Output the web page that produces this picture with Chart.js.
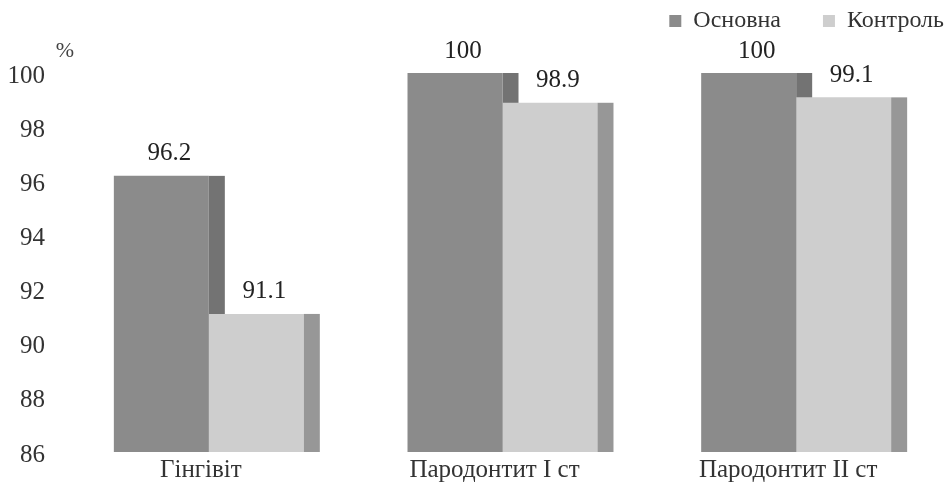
<!DOCTYPE html>
<html>
<head>
<meta charset="utf-8">
<script src="https://cdn.jsdelivr.net/npm/chart.js@4.4.1/dist/chart.umd.min.js"></script>
<style>
  html, body { margin: 0; padding: 0; background: #fff; }
</style>
</head>
<body>
<canvas id="chart" width="946" height="486"></canvas>
<script>
const categories = ["Гінгівіт", "Пародонтит І ст", "Пародонтит ІІ ст"];
const seriesNames = ["Основна", "Контроль"];
const mainValues = [96.2, 100, 100];
const controlValues = [91.1, 98.9, 99.1];
const yMin = 86;
const yMax = 100;
const yStep = 2;

const frontColors = ["#8b8b8b", "#cecece"];
const sideColors = ["#737373", "#979797"];
const sideWidth = 16;
const fontFamily = "'Liberation Serif', 'DejaVu Serif', serif";
const legendGap = 42;

function drawSides(chart, index) {
  const ctx = chart.ctx;
  const bottom = chart.chartArea.bottom;
  ctx.save();
  ctx.fillStyle = sideColors[index];
  chart.getDatasetMeta(index).data.forEach(bar => {
    const p = bar.getProps(["x", "y", "width"], true);
    ctx.fillRect(p.x + p.width / 2, p.y, sideWidth, bottom - p.y);
  });
  ctx.restore();
}

// 3D right faces: the first series' face sits behind the second series' bars
const barSides = {
  id: "barSides",
  beforeDatasetsDraw(chart) {
    drawSides(chart, 0);
  },
  afterDatasetsDraw(chart) {
    drawSides(chart, 1);
    const ctx = chart.ctx;
    ctx.save();
    ctx.fillStyle = "#222";
    ctx.font = "25px " + fontFamily;
    ctx.textAlign = "center";
    ctx.textBaseline = "middle";
    chart.data.datasets.forEach((ds, i) => {
      chart.getDatasetMeta(i).data.forEach((bar, j) => {
        ctx.fillText(String(ds.data[j]), bar.x + sideWidth / 2, bar.y - 22);
      });
    });
    ctx.font = "22px " + fontFamily;
    ctx.fillStyle = "#444";
    ctx.fillText("%", chart.chartArea.left + 3, chart.chartArea.top - 22);
    ctx.restore();
  }
};

// legend: fixed height, wide gap between items, pushed to the top right corner
const legendSpace = {
  id: "legendSpace",
  beforeInit(chart) {
    const fit = chart.legend.fit;
    chart.legend.fit = function () {
      fit.call(this);
      this.height = 73;
    };
  },
  afterLayout(chart) {
    chart.legend.right = 944 + legendGap;
    chart.legend.top = 21 - legendGap - 12;
  }
};

new Chart(document.getElementById("chart"), {
  type: "bar",
  data: {
    labels: categories,
    datasets: [
      { label: seriesNames[0], data: mainValues, backgroundColor: frontColors[0] },
      { label: seriesNames[1], data: controlValues, backgroundColor: frontColors[1] }
    ]
  },
  options: {
    responsive: false,
    animation: false,
    devicePixelRatio: 1,
    layout: { padding: { left: 0, right: 3, top: 0, bottom: 0 } },
    datasets: {
      bar: { categoryPercentage: 190 / 293.7, barPercentage: 1 }
    },
    plugins: {
      legend: {
        position: "top",
        align: "end",
        labels: {
          boxWidth: 12,
          boxHeight: 12,
          padding: legendGap,
          color: "#333",
          font: { family: fontFamily, size: 24 }
        }
      },
      tooltip: { enabled: false }
    },
    scales: {
      x: {
        grid: { display: false, drawTicks: false },
        border: { display: false },
        ticks: {
          color: "#333",
          padding: 3,
          labelOffset: -8,
          font: { family: fontFamily, size: 25 }
        },
        afterFit(scale) { scale.height = 34; }
      },
      y: {
        min: yMin,
        max: yMax,
        grid: { display: false, drawTicks: false },
        border: { display: false },
        ticks: {
          stepSize: yStep,
          color: "#333",
          padding: 17,
          labelOffset: 3,
          font: { family: fontFamily, size: 25 }
        },
        afterFit(scale) { scale.width = 62; }
      }
    }
  },
  plugins: [barSides, legendSpace]
});
</script>
</body>
</html>
